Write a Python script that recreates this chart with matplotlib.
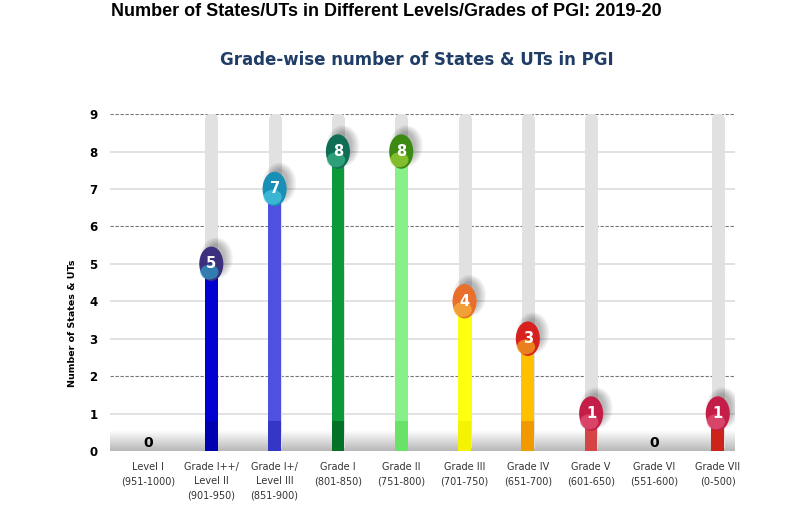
import numpy as np
import matplotlib.pyplot as plt
from matplotlib.patches import Ellipse

grades = ['Level I\n(951-1000)', 'Grade I++/\nLevel II\n(901-950)', 'Grade I+/\nLevel III\n(851-900)',
          'Grade I\n(801-850)', 'Grade II\n(751-800)', 'Grade III\n(701-750)', 'Grade IV\n(651-700)',
          'Grade V\n(601-650)', 'Grade VI\n(551-600)', 'Grade VII\n(0-500)']
counts = [0, 5, 7, 8, 8, 4, 3, 1, 0, 1]
bar_colors = ['#cccccc', '#0000d0', '#5050e0', '#0a9a3a', '#88f088', '#ffff10', '#ffc000',
              '#e86060', '#cccccc', '#e03028']
base_colors = ['#cccccc', '#0000a8', '#3030c0', '#006a22', '#60e060', '#f0f000', '#f09000',
               '#d04040', '#cccccc', '#c82018']
ball_colors = ['#ffffff', '#3b2f7e', '#1a8fb5', '#0f6e55', '#3d8a12', '#e8702c', '#d8201e',
               '#c41e48', '#ffffff', '#c41e48']
ball_light = ['#ffffff', '#2fb0d0', '#50d0e8', '#40c090', '#b0e040', '#f8c040', '#f8c020',
              '#e86080', '#ffffff', '#e86080']

fig = plt.figure(figsize=(7.97, 5.14), dpi=100)
ax = fig.add_axes([0.138, 0.1226, 0.784, 0.6554])
x = np.arange(len(grades))
ax.set_xlim(-0.6, 9.27)
ax.set_ylim(0, 9)

# gridlines
for g in range(1, 10):
    if g in (2, 6, 9):
        ax.axhline(g, color='#777777', lw=0.8, ls=(0, (3, 1.5)), zorder=0)
    else:
        ax.axhline(g, color='#dddddd', lw=1.2, zorder=0)

# floor shadow
grad = np.linspace(0.72, 1.0, 50).reshape(-1, 1)
ax.imshow(grad, extent=(-0.6, 9.27, 0, 0.55), origin='lower', cmap='gray', vmin=0, vmax=1,
          aspect='auto', zorder=0.5)

w = 0.2
for i, v in enumerate(counts):
    if v == 0:
        ax.text(i, 0.02, '0', ha='center', va='bottom', fontsize=10, fontweight='bold', zorder=5)
        continue
    ax.plot([i, i], [0.15, 8.88], color='#e1e1e1', lw=9.4, solid_capstyle='round', zorder=1)
    ax.bar(i, v, width=w, color=bar_colors[i], zorder=2)
    ax.bar(i, 0.8, width=w, color=base_colors[i], alpha=0.8, zorder=2.1)
    # soft shadow up-right of the ball
    for k in range(6):
        ax.add_patch(Ellipse((i + 0.08, v + 0.15), 0.52 - k * 0.05, 1.1 - k * 0.07,
                             color='#000000', alpha=0.05, lw=0, zorder=2.5))
    ax.add_patch(Ellipse((i, v), 0.38, 0.92, color=ball_colors[i], lw=0, zorder=3))
    ax.add_patch(Ellipse((i - 0.03, v - 0.22), 0.29, 0.4, color=ball_light[i], alpha=0.6,
                         lw=0, zorder=3.1))
    ax.text(i, v, str(v), ha='center', va='center', color='white', fontsize=10.5,
            fontweight='bold', zorder=4)

for s in ax.spines.values():
    s.set_visible(False)
ax.tick_params(length=0)
ax.set_yticks(range(10))
ax.set_yticklabels([str(t) for t in range(10)], fontsize=8.5, fontweight='bold')
ax.set_xticks(x)
ax.set_xticklabels(grades, fontsize=7, color='#333333', linespacing=1.55, va='top')
ax.tick_params(axis='x', pad=8)
ax.tick_params(axis='y', pad=9)
ax.set_ylabel('Number of States & UTs', fontsize=6.8, fontweight='bold')
ax.yaxis.set_label_coords(-0.053, 0.38)

fig.text(0.485, 0.977, 'Number of States/UTs in Different Levels/Grades of PGI: 2019-20',
         ha='center', va='center', fontsize=13, fontweight='bold', family='Liberation Sans')
fig.text(0.523, 0.883, 'Grade-wise number of States & UTs in PGI', ha='center', va='center',
         fontsize=12, fontweight='bold', color='#1f3d66')

fig.savefig('out.png', dpi=100)
